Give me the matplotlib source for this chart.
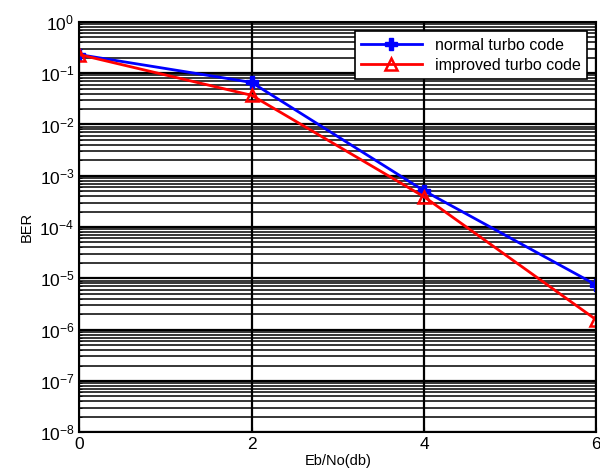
import matplotlib
matplotlib.use("Agg")
import matplotlib.pyplot as plt
from matplotlib.ticker import LogLocator, NullFormatter, FixedLocator

ebno = [0, 2, 4, 6]
ber_normal = [0.23, 0.066, 5.1e-4, 7.4e-6]
ber_improved = [0.23, 0.037, 3.9e-4, 1.55e-6]
xticks = [0, 2, 4, 6]

plt.rcParams['font.family'] = ['Liberation Sans', 'DejaVu Sans']
fig = plt.figure(figsize=(6.0, 4.75), dpi=100)
ax = fig.add_axes([0.132, 0.09, 0.862, 0.864])

ax.semilogy(ebno, ber_normal, color='#0000ff', lw=2, marker='P', ms=8,
            markerfacecolor='#0000ff', label='normal turbo code')
ax.semilogy(ebno, ber_improved, color='#ff0000', lw=2, marker='^', ms=8,
            markerfacecolor='none', markeredgewidth=1.8, label='improved turbo code')

ax.set_xlim(0, 6)
ax.set_ylim(1e-8, 1)
ax.xaxis.set_major_locator(FixedLocator(xticks))
ax.yaxis.set_major_locator(LogLocator(base=10, numticks=12))
ax.yaxis.set_minor_locator(LogLocator(base=10, subs=range(2, 10), numticks=12))
ax.yaxis.set_minor_formatter(NullFormatter())
ax.grid(True, which='major', color='black', lw=1.6, ls='-')
ax.grid(True, which='minor', axis='y', color='black', lw=1.1, ls='-')
ax.tick_params(axis='both', which='both', direction='in', labelsize=12.5)
for s in ax.spines.values():
    s.set_linewidth(1.5)

ax.set_xlabel('Eb/No(db)', fontsize=10.5, labelpad=1)
ax.set_ylabel('BER', fontsize=10.5)

leg = ax.legend(loc='upper right', fontsize=11.5, frameon=True, fancybox=False,
                edgecolor='black', framealpha=1, handlelength=3.8,
                borderaxespad=0.6, labelspacing=0.3)
leg.get_frame().set_linewidth(1.2)

fig.savefig('out.png', dpi=100)
